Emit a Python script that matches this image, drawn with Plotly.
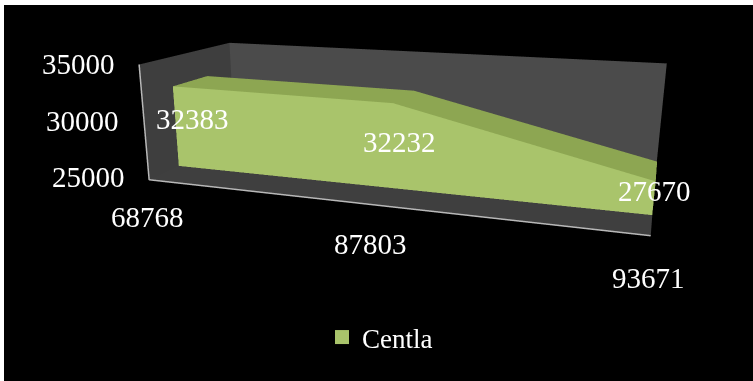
import numpy as np
import plotly.graph_objects as go

# Chart data
categories = ["68768", "87803", "93671"]
values = [32383, 32232, 27670]
z_ticks = [25000, 30000, 35000]
series_name = "Centla"

# Camera of the 3D scene
EYE = np.array([2.023, -6.383, 1.521])
CENTER = np.array([0.007, -0.581, -0.319])
UP = np.array([-0.003, -0.012, 1.0])
ASPECT = np.array([4.139, 1.501, 1.0])
DEPTH_FRONT, DEPTH_BACK = 0.307, 0.695

# Plotly's field of view is fixed, so a tall scene is cropped to the chart frame
X0, Y0, W, H = 4, 5, 749, 376
FIG_W, FIG_H = 768, 666
PPX, PPY = 382, 177
FOCAL = FIG_H / 2 / np.tan(np.pi / 8)
gd_left, gd_top = PPX - FIG_W / 2, PPY - FIG_H / 2
BASE, TOP = z_ticks[0], z_ticks[-1]


def project(xv, yv, zv):
    """Screen position of a data point, used only to offset text labels."""
    q = (np.array([xv / 2, yv, (zv - BASE) / (TOP - BASE)]) - 0.5) * ASPECT
    f = (CENTER - EYE) / np.linalg.norm(CENTER - EYE)
    s = np.cross(f, UP)
    s /= np.linalg.norm(s)
    u = np.cross(s, f)
    v = q - EYE
    return PPX + FOCAL * (v @ s) / (v @ f), PPY - FOCAL * (v @ u) / (v @ f)


def strip(ys0, zs0, ys1, zs1, color):
    n = len(xi)
    i, j, k = [], [], []
    for a in range(n - 1):
        i += [a, a]
        j += [a + 1, n + a + 1]
        k += [n + a + 1, n + a]
    return go.Mesh3d(x=xi + xi, y=list(ys0) + list(ys1), z=list(zs0) + list(zs1), i=i, j=j, k=k,
                     color=color, flatshading=True, showscale=False, hoverinfo="skip", showlegend=False,
                     lighting=dict(ambient=1, diffuse=0, specular=0, fresnel=0, roughness=1))


xi = list(range(len(categories)))
fig = go.Figure()
fig.add_trace(strip([DEPTH_FRONT] * 3, [BASE] * 3, [DEPTH_FRONT] * 3, values, "#A9C46B"))
fig.add_trace(strip([DEPTH_FRONT] * 3, values, [DEPTH_BACK] * 3, values, "#8DA652"))
fig.add_trace(go.Scatter(x=[None], y=[None], mode="markers", name=series_name, showlegend=True,
                         marker=dict(symbol="square", size=14, color="#A9C46B")))

FONT = "Liberation Serif"


def label(xv, yv, zv, text, tx, ty):
    ax_, ay_ = project(xv, yv, zv)
    return dict(x=xv, y=yv, z=zv, text=text, showarrow=False, xshift=float(tx - ax_), yshift=float(ay_ - ty),
                font=dict(family=FONT, size=29, color="white"))


ann = []
for t, pos in zip(z_ticks, [(88, 175), (83, 119), (79, 62)]):
    ann.append(label(0, 0, t, str(t), *pos))
for xc, name, pos in zip(xi, categories, [(147, 215), (370, 244), (648, 280)]):
    ann.append(label(xc, 0, BASE, name, *pos))
for xc, v, pos in zip(xi, values, [(193, 118), (400, 142), (654, 193)]):
    ann.append(label(xc, DEPTH_FRONT, (v + BASE) / 2, str(v), *pos))


def axis(rng, bg, line=False):
    return dict(range=rng, autorange=False, showbackground=True, backgroundcolor=bg, showgrid=False,
                zeroline=False, showticklabels=False, ticks="", title=dict(text=""), showspikes=False,
                showline=line, linecolor="#B8B8B8", linewidth=3)


fig.update_layout(
    width=FIG_W, height=FIG_H, margin=dict(l=0, r=0, t=0, b=0), paper_bgcolor="black",
    plot_bgcolor="rgba(0,0,0,0)", showlegend=True, xaxis=dict(visible=False), yaxis=dict(visible=False),
    legend=dict(x=(322 - gd_left) / FIG_W, y=1 - (362 - gd_top) / FIG_H, xanchor="left", yanchor="bottom",
                bgcolor="rgba(0,0,0,0)", font=dict(family=FONT, size=27, color="white")),
    scene=dict(domain=dict(x=[0, 1], y=[0, 1]), bgcolor="black", aspectmode="manual",
               aspectratio=dict(x=ASPECT[0], y=ASPECT[1], z=ASPECT[2]),
               camera=dict(eye=dict(x=EYE[0], y=EYE[1], z=EYE[2]),
                           center=dict(x=CENTER[0], y=CENTER[1], z=CENTER[2]),
                           up=dict(x=UP[0], y=UP[1], z=UP[2]), projection=dict(type="perspective")),
               xaxis=axis([0, 2], "#3E3E3E", True), yaxis=axis([0, 1], "#4B4B4B"),
               zaxis=axis([BASE, TOP], "#3F3F3F", True), annotations=ann),
)
js = f"""
var gd=document.querySelector('.plotly-graph-div');
var wrap=document.createElement('div');
wrap.style.cssText='position:absolute;left:{X0}px;top:{Y0}px;width:{W}px;height:{H}px;overflow:hidden';
gd.parentNode.insertBefore(wrap,gd);wrap.appendChild(gd);
gd.style.position='absolute';gd.style.left='{gd_left - X0}px';gd.style.top='{gd_top - Y0}px';
document.body.style.margin='0';document.body.style.overflow='hidden';
"""
fig.write_html("out.html", config=dict(displayModeBar=False), post_script=js)
